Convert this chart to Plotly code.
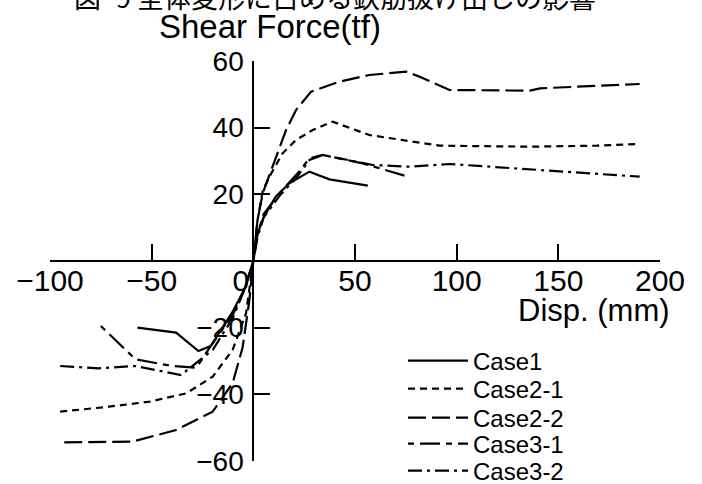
import plotly.graph_objects as go

# ---------------- data ----------------
case_names = ["Case1", "Case2-1", "Case2-2", "Case3-1", "Case3-2"]

case1_disp = [-57, -38, -27, -21, -10, -4, 0, 2, 5, 11, 17.7, 27.6, 37.4, 56.3]
case1_force = [-20, -21.5, -27, -25.5, -15, -8, 0, 8, 13, 19.3, 23.3, 26.8, 24.5, 22.6]

case21_disp = [-95, -71, -51, -33, -20, -10.2, -3.6, 0, 2, 4.6, 7.9, 14.4, 21, 29.2, 39, 57, 91.6, 136, 168.8, 190]
case21_force = [-45.2, -43.7, -42.2, -39.7, -34.7, -26.7, -15.7, 0, 12, 21, 25.3, 32.3, 36.3, 39.3, 41.8, 37.8, 34.6, 34.3, 34.6, 35.1]

case22_disp = [-93, -59.5, -38, -20, -10.2, -5.3, -2, 0, 2, 4.6, 9.5, 16.1, 21, 28.4, 42.4, 57, 75.2, 81.8, 96.5, 136, 141, 190]
case22_force = [-54.4, -54.2, -50.7, -45.2, -36.7, -26, -12, 0, 12, 20.3, 28.3, 39.3, 45.3, 50.8, 53.8, 55.8, 56.8, 55.3, 51.3, 51.1, 51.8, 53.1]

case31_disp = [-75, -62, -58, -40, -28, -21.7, -10, -4, 0, 2, 5, 12.8, 21.8, 27.6, 34.1, 53.8, 76]
case31_force = [-19.5, -27.3, -29.5, -31.5, -32, -26.2, -16, -8, 0, 8, 14, 20.3, 26.3, 30.8, 31.8, 29.3, 25.3]

case32_disp = [-95, -76, -58, -35.6, -20, -10, -4, 0, 2, 5, 12.8, 21.8, 27.6, 34.1, 58.8, 76.8, 96.5, 190]
case32_force = [-31.5, -32.2, -31.5, -34.2, -26.7, -17, -8, 0, 7, 13, 19.5, 25.5, 30.3, 31.8, 28.8, 28.3, 29.1, 25.3]

x_tickvals = [-100, -50, 0, 50, 100, 150, 200]
x_ticklabels = ["−100", "−50", "0", "50", "100", "150", "200"]
y_tickvals = [-60, -40, -20, 20, 40, 60]
y_ticklabels = ["−60", "−40", "−20", "20", "40", "60"]

title_text = "図−9 全体変形に占める鉄筋抜け出しの影響"
y_title = "Shear Force(tf)"
x_title = "Disp. (mm)"

# ---------------- layout geometry (pixels) ----------------
W, H = 702, 484
PL, PR, PT, PB = 50, 660, 61, 461     # plot area edges in pixels
xmin, xmax = -100, 200
ymin, ymax = -60, 60

def fx(px):
    return px / W

def fy(py):
    return (H - py) / H

dashes = ["solid", "7px,5px", "18px,6px", "6px,6px,20px,6px", "14px,5px,3px,5px"]
series = [
    (case1_disp, case1_force),
    (case21_disp, case21_force),
    (case22_disp, case22_force),
    (case31_disp, case31_force),
    (case32_disp, case32_force),
]
legend_ids = ["legend", "legend2", "legend3", "legend4", "legend5"]
legend_centers_px = [361, 389, 418, 444, 471]

FONT = "Liberation Sans, Arial, Helvetica, sans-serif"

fig = go.Figure()
for name, (xs, ys), dash, lid in zip(case_names, series, dashes, legend_ids):
    fig.add_trace(go.Scatter(
        x=xs, y=ys, mode="lines", name=name, legend=lid,
        line=dict(color="black", width=2.2, dash=dash),
    ))

# pixel position of the zero lines
x0_px = PL + (0 - xmin) / (xmax - xmin) * (PR - PL)
y0_px = PB - (0 - ymin) / (ymax - ymin) * (PB - PT)

x_ticktext = [("0" + "\u00a0\u00a0\u00a0") if t == "0" else t for t in x_ticklabels]

layout_legends = {}
for lid, cy in zip(legend_ids, legend_centers_px):
    layout_legends[lid] = dict(
        x=fx(403), y=fy(cy), xanchor="left", yanchor="middle",
        bgcolor="rgba(0,0,0,0)", borderwidth=0,
        font=dict(size=24, family=FONT, color="black"),
        itemwidth=60,
    )

fig.update_layout(
    width=W, height=H,
    margin=dict(l=0, r=0, t=0, b=0, autoexpand=False),
    paper_bgcolor="white", plot_bgcolor="white",
    font=dict(family=FONT, color="black"),
    xaxis=dict(
        range=[xmin, xmax], domain=[fx(PL), fx(PR)],
        anchor="free", position=fy(y0_px), automargin=False,
        showgrid=False, zeroline=False,
        showline=True, linecolor="black", linewidth=2,
        ticks="inside", ticklen=16, tickwidth=2, tickcolor="black",
        tickmode="array", tickvals=x_tickvals, ticktext=x_ticktext,
        tickfont=dict(size=30, family=FONT),
        ticklabelstandoff=-7,
    ),
    yaxis=dict(
        range=[ymin, ymax], domain=[fy(PB), fy(PT)],
        anchor="free", position=fx(x0_px), automargin=False,
        showgrid=False, zeroline=False,
        showline=True, linecolor="black", linewidth=2,
        ticks="inside", ticklen=16, tickwidth=2, tickcolor="black",
        tickmode="array", tickvals=y_tickvals, ticktext=y_ticklabels,
        tickfont=dict(size=28, family=FONT),
        ticklabelstandoff=3,
    ),
    showlegend=True,
    **layout_legends,
)

fig.add_annotation(
    text=title_text, xref="paper", yref="paper",
    x=fx(335), y=fy(-3),
    xanchor="center", yanchor="middle", showarrow=False,
    font=dict(size=27, family="Noto Sans CJK JP", color="black"),
)
fig.add_annotation(
    text=y_title, xref="paper", yref="paper",
    x=fx(270), y=fy(26),
    xanchor="center", yanchor="middle", showarrow=False,
    font=dict(size=33, family=FONT, color="black"),
)
fig.add_annotation(
    text=x_title, xref="paper", yref="paper",
    x=fx(672), y=fy(310),
    xanchor="right", yanchor="middle", showarrow=False,
    font=dict(size=31, family=FONT, color="black"),
)

fig.write_html(
    "out.html",
    config={"displayModeBar": False},
    post_script="document.body.style.margin='0';",
)
